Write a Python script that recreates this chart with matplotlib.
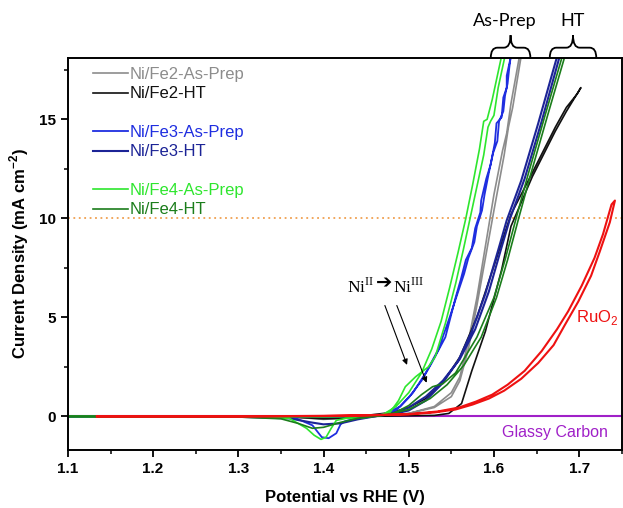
import matplotlib
matplotlib.use("Agg")
import matplotlib.pyplot as plt
from matplotlib.path import Path
from matplotlib.patches import PathPatch
from matplotlib.lines import Line2D
from matplotlib.ticker import MultipleLocator

plt.rcParams['font.family'] = 'Liberation Sans'
plt.rcParams['mathtext.fontset'] = 'custom'
plt.rcParams['mathtext.rm'] = 'Liberation Sans'
plt.rcParams['mathtext.bf'] = 'Liberation Sans:bold'
plt.rcParams['mathtext.sf'] = 'Liberation Serif'

# CV loops: anodic sweep up, then cathodic sweep back (E in V vs RHE, j in mA cm-2)
fe2_ap_E = [1.10, 1.40, 1.46, 1.50, 1.53, 1.55, 1.56, 1.57, 1.58, 1.59, 1.60, 1.61, 1.615, 1.62, 1.63, 1.635,
            1.632, 1.622, 1.617, 1.612, 1.60, 1.59, 1.58, 1.57, 1.56, 1.55, 1.53, 1.50, 1.46, 1.42, 1.40, 1.37, 1.30, 1.10]
fe2_ap_j = [0.0, 0.0, 0.02, 0.15, 0.5, 1.2, 2.0, 3.8, 6.0, 8.6, 11.2, 13.4, 14.3, 15.8, 18.2, 19.0,
            18.2, 15.6, 14.6, 13.2, 10.4, 8.0, 5.6, 3.4, 1.8, 1.0, 0.45, 0.15, 0.0, -0.1, -0.15, -0.05, 0.0, 0.0]

fe2_ht_E = [1.10, 1.45, 1.53, 1.547, 1.562, 1.574, 1.59, 1.609, 1.62, 1.645, 1.672, 1.685, 1.702,
            1.698, 1.685, 1.672, 1.645, 1.62, 1.60, 1.58, 1.56, 1.54, 1.52, 1.50, 1.48, 1.45, 1.42, 1.40, 1.36, 1.30, 1.10]
fe2_ht_j = [0.0, 0.0, 0.05, 0.15, 0.65, 2.3, 4.3, 7.4, 9.6, 12.1, 14.4, 15.4, 16.6,
            16.3, 15.6, 14.6, 12.3, 10.2, 7.6, 5.0, 3.0, 1.7, 0.9, 0.45, 0.2, 0.05, -0.1, -0.12, -0.03, 0.0, 0.0]

fe3_ap_E = [1.10, 1.35, 1.45, 1.47, 1.485, 1.50, 1.515, 1.527, 1.543, 1.555, 1.561, 1.567, 1.574, 1.578, 1.584,
            1.585, 1.591, 1.596, 1.601, 1.603, 1.609, 1.611, 1.615, 1.615, 1.619, 1.622,
            1.621, 1.618, 1.616, 1.613, 1.611, 1.606, 1.604, 1.599, 1.594, 1.589, 1.586, 1.580, 1.577, 1.570,
            1.565, 1.558, 1.548, 1.535, 1.52, 1.505, 1.49, 1.47, 1.45, 1.438, 1.425, 1.42, 1.415, 1.406,
            1.398, 1.387, 1.368, 1.33, 1.20, 1.10]
fe3_ap_j = [0.0, -0.02, 0.0, 0.1, 0.3, 0.95, 1.8, 2.7, 4.0, 6.0, 6.9, 7.9, 8.5, 9.5, 10.3,
            10.9, 12.0, 12.7, 13.8, 14.8, 15.1, 16.1, 16.6, 17.2, 18.0, 18.6,
            18.6, 17.6, 16.8, 16.2, 15.4, 14.9, 13.9, 13.3, 12.3, 11.2, 10.4, 9.6, 8.8, 8.0,
            7.2, 6.3, 5.0, 3.4, 2.2, 1.2, 0.5, 0.1, -0.05, -0.1, -0.25, -0.4, -0.85, -1.1,
            -1.05, -0.45, -0.1, -0.03, 0.0, 0.0]

fe3_ht_E = [1.10, 1.45, 1.48, 1.50, 1.52, 1.539, 1.558, 1.574, 1.59, 1.605, 1.615, 1.632, 1.652, 1.673, 1.68,
            1.683, 1.676, 1.656, 1.636, 1.619, 1.608, 1.594, 1.578, 1.56, 1.54, 1.52, 1.50, 1.48, 1.46,
            1.44, 1.42, 1.40, 1.385, 1.36, 1.30, 1.10]
fe3_ht_j = [0.0, 0.0, 0.1, 0.3, 0.8, 1.65, 2.8, 4.3, 6.2, 8.4, 9.9, 11.9, 14.8, 18.0, 19.0,
            19.0, 18.0, 14.9, 12.0, 10.0, 8.4, 6.3, 4.4, 2.9, 1.8, 1.0, 0.45, 0.15, 0.0,
            -0.15, -0.35, -0.4, -0.3, -0.1, -0.02, 0.0]

fe4_ap_E = [1.10, 1.40, 1.45, 1.47, 1.478, 1.488, 1.496, 1.508, 1.523, 1.531, 1.543, 1.555, 1.564, 1.572, 1.58,
            1.588, 1.593, 1.596, 1.60, 1.605, 1.612, 1.615,
            1.612, 1.608, 1.598, 1.592, 1.588, 1.583, 1.575, 1.567, 1.558, 1.548, 1.538, 1.527, 1.515, 1.50,
            1.485, 1.47, 1.45, 1.426, 1.415, 1.409, 1.403, 1.397, 1.389, 1.38, 1.36, 1.33, 1.10]
fe4_ap_j = [0.0, -0.02, 0.0, 0.1, 0.2, 0.8, 1.5, 2.0, 2.5, 3.0, 4.7, 6.7, 8.4, 10.0, 11.6,
            13.2, 14.6, 14.9, 15.2, 16.6, 18.0, 18.6,
            19.0, 18.0, 16.0, 15.0, 14.9, 13.5, 11.7, 10.0, 8.3, 6.5, 4.8, 3.4, 2.2, 1.2,
            0.5, 0.1, -0.05, -0.1, -0.2, -0.6, -1.05, -1.16, -0.95, -0.6, -0.1, -0.03, 0.0]

fe4_ht_E = [1.10, 1.45, 1.48, 1.50, 1.515, 1.528, 1.54, 1.555, 1.58, 1.60, 1.613, 1.626, 1.64, 1.66, 1.679, 1.685,
            1.688, 1.682, 1.663, 1.643, 1.629, 1.616, 1.603, 1.585, 1.565, 1.545, 1.525, 1.50, 1.47,
            1.44, 1.42, 1.40, 1.387, 1.37, 1.35, 1.30, 1.10]
fe4_ht_j = [0.0, 0.0, 0.1, 0.55, 1.1, 1.5, 1.65, 2.2, 4.0, 6.0, 7.9, 10.0, 12.2, 15.2, 18.0, 19.0,
            19.0, 18.0, 15.2, 12.2, 10.0, 7.9, 6.0, 4.0, 2.6, 1.6, 0.9, 0.35, 0.05,
            -0.1, -0.3, -0.55, -0.6, -0.35, -0.12, -0.03, 0.0]

ruo2_E = [1.134, 1.30, 1.40, 1.45, 1.50, 1.53, 1.555, 1.575, 1.594, 1.612, 1.632, 1.652, 1.67, 1.683, 1.699,
          1.714, 1.724, 1.736, 1.742,
          1.738, 1.728, 1.718, 1.703, 1.687, 1.674, 1.656, 1.636, 1.616, 1.598, 1.579, 1.559, 1.534,
          1.50, 1.45, 1.40, 1.30, 1.134]
ruo2_j = [0.0, 0.0, 0.02, 0.05, 0.1, 0.2, 0.35, 0.6, 0.9, 1.3, 1.9, 2.7, 3.6, 4.6, 5.8,
          7.1, 8.3, 9.8, 10.9,
          10.7, 9.2, 8.0, 6.6, 5.3, 4.4, 3.3, 2.3, 1.6, 1.1, 0.75, 0.45, 0.25,
          0.12, 0.06, 0.03, 0.0, 0.0]

gc_E = [1.10, 1.75]
gc_j = [0.0, 0.0]

fig = plt.figure(figsize=(6.23, 5.08), dpi=100)
ax = fig.add_axes([0.109, 0.114, 0.889, 0.772])

ax.axhline(10, color='#f0a050', lw=1.3, ls=(0, (1, 2)), zorder=1)
ax.plot(gc_E, gc_j, color='#a020c8', lw=1.5, zorder=2)
ax.plot(ruo2_E, ruo2_j, color='#ee1111', lw=1.5, zorder=3)

ax.plot(fe2_ap_E, fe2_ap_j, color='#8c8c8c', lw=1.2, label='Ni/Fe2-As-Prep')
ax.plot(fe2_ht_E, fe2_ht_j, color='#111111', lw=1.2, label='Ni/Fe2-HT')
ax.plot(fe3_ap_E, fe3_ap_j, color='#1f2ee0', lw=1.3, label='Ni/Fe3-As-Prep')
ax.plot(fe3_ht_E, fe3_ht_j, color='#1c2496', lw=1.5, label='Ni/Fe3-HT')
ax.plot(fe4_ap_E, fe4_ap_j, color='#2ee62e', lw=1.2, label='Ni/Fe4-As-Prep')
ax.plot(fe4_ht_E, fe4_ht_j, color='#1b7d1b', lw=1.2, label='Ni/Fe4-HT')

ax.set_xlim(1.1, 1.75)
ax.set_ylim(-1.7, 18.1)
ax.xaxis.set_major_locator(MultipleLocator(0.1))
ax.xaxis.set_minor_locator(MultipleLocator(0.05))
ax.yaxis.set_major_locator(MultipleLocator(5))
ax.yaxis.set_minor_locator(MultipleLocator(2.5))
ax.tick_params(which='major', direction='out', length=5, width=1.3, labelsize=11)
ax.tick_params(which='minor', direction='out', length=3, width=1.1)
for lab in ax.get_xticklabels() + ax.get_yticklabels():
    lab.set_fontweight('bold')
for sp in ax.spines.values():
    sp.set_linewidth(1.4)

ax.set_xlabel('Potential vs RHE (V)', fontsize=12, fontweight='bold', labelpad=10)
ax.set_ylabel(r'Current Density (mA cm$^{\mathbf{-2}}$)', fontsize=12, fontweight='bold', labelpad=6)

# legend with empty rows between sample groups
h, l = ax.get_legend_handles_labels()
blank = Line2D([], [], color='none')
handles = [h[0], h[1], blank, h[2], h[3], blank, h[4], h[5]]
labels = [l[0], l[1], ' ', l[2], l[3], ' ', l[4], l[5]]
ax.legend(handles, labels, loc='upper left', bbox_to_anchor=(0.019, 1.015), frameon=False,
          fontsize=12, labelcolor='linecolor', handlelength=2.1, handletextpad=0.05,
          labelspacing=0.26)

ax.text(1.671, -0.8, 'Glassy Carbon', color='#a020c8', fontsize=11.5, ha='center', va='center')
ax.text(1.746, 5.0, r'RuO$_2$', color='#ee1111', fontsize=12, ha='right', va='center')

# Ni(II) -> Ni(III) oxidation label, built from three pieces
ax.text(1.459, 6.6, r'$\mathsf{Ni}^{\mathsf{II}}$', fontsize=12.5, ha='right', va='center')
ax.text(1.4705, 6.75, '\u2794', fontsize=14, family='DejaVu Sans', ha='center', va='center')
ax.text(1.482, 6.6, r'$\mathsf{Ni}^{\mathsf{III}}$', fontsize=12.5, ha='left', va='center')
arrow = dict(arrowstyle='-|>', lw=0.8, color='k', mutation_scale=8, shrinkA=0, shrinkB=0)
ax.annotate('', xy=(1.498, 2.6), xytext=(1.472, 5.6), arrowprops=arrow)
ax.annotate('', xy=(1.521, 1.7), xytext=(1.486, 5.6), arrowprops=arrow)


def brace(x0, x1, y0=1.0, h=0.058, q=0.012):
    # horizontal curly bracket opening down onto the top spine
    xc = (x0 + x1) / 2
    ym = y0 + h * 0.45
    yt = y0 + h
    verts = [(x0, y0), (x0, ym), (x0 + q, ym), (xc - q, ym), (xc, ym), (xc, yt),
             (xc, ym), (xc + q, ym), (x1 - q, ym), (x1, ym), (x1, y0)]
    codes = [Path.MOVETO, Path.CURVE3, Path.CURVE3, Path.LINETO, Path.CURVE3, Path.CURVE3,
             Path.CURVE3, Path.CURVE3, Path.LINETO, Path.CURVE3, Path.CURVE3]
    ax.add_patch(PathPatch(Path(verts, codes), fc='none', ec='k', lw=1.3,
                           transform=ax.transAxes, clip_on=False))


brace(0.7635, 0.835)
brace(0.870, 0.954)
ax.text(0.789, 1.094, 'As-Prep', transform=ax.transAxes, fontsize=13, family='Lato',
        ha='center', va='center')
ax.text(0.9115, 1.094, 'HT', transform=ax.transAxes, fontsize=13, family='Lato',
        ha='center', va='center')

fig.savefig('out.png', dpi=100)
